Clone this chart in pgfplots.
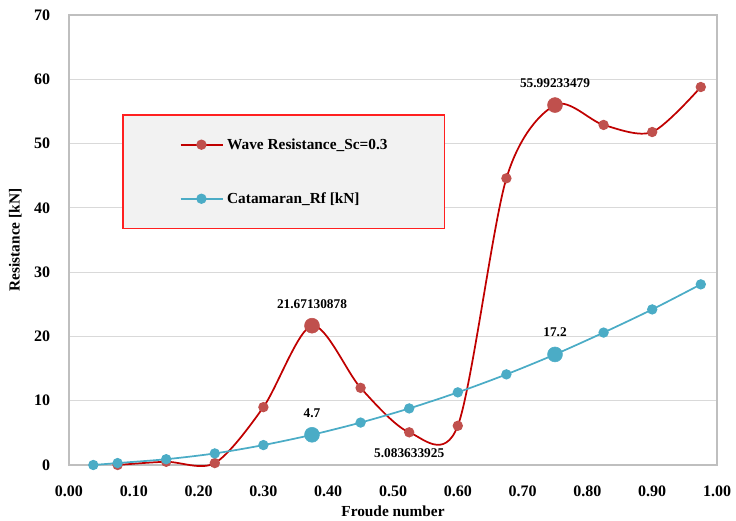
\documentclass[border=0pt]{standalone}
\usepackage{fontspec}
\setmainfont{Liberation Serif}
\usepackage{pgfplots}
\pgfplotsset{compat=1.18}
\definecolor{redline}{HTML}{C00000}
\definecolor{redmark}{HTML}{C0504D}
\definecolor{blueline}{HTML}{4BACC6}
\definecolor{gridgray}{HTML}{D9D9D9}
\definecolor{framegray}{HTML}{BFBFBF}
\definecolor{legfill}{HTML}{F2F2F2}
\definecolor{legred}{HTML}{FF2020}

\begin{document}
\begin{tikzpicture}
\useasboundingbox (-51.75pt,-42pt) rectangle (500.25pt,348.75pt);
\begin{axis}[
  scale only axis, width=486pt, height=337.5pt,
  xmin=0, xmax=1, ymin=0, ymax=70,
  xtick={0,0.1,0.2,0.3,0.4,0.5,0.6,0.7,0.8,0.9,1},
  ytick={0,10,20,30,40,50,60,70},
  ymajorgrids, grid style={gridgray, line width=0.9pt},
  axis line style={framegray, line width=0.9pt},
  major tick length=0pt,
  /pgf/number format/assume math mode=true,
  tick label style={font=\fontsize{12}{14}\selectfont\bfseries},
  xticklabel style={anchor=center, yshift=-19.5pt,
    /pgf/number format/fixed, /pgf/number format/fixed zerofill,
    /pgf/number format/precision=2},
  yticklabel style={anchor=east, inner sep=0pt, xshift=-14pt,
    /pgf/number format/fixed, /pgf/number format/precision=0},
  xlabel={Froude number},
  xlabel style={at={(axis description cs:0.5,0)}, anchor=center, yshift=-35pt,
    font=\fontsize{11.5}{13}\selectfont\bfseries},
  ylabel={Resistance [kN]},
  ylabel style={at={(axis description cs:-0.083,0.5)}, anchor=center,
    font=\fontsize{11.5}{13}\selectfont\bfseries},
  legend cell align=left,
  legend image code/.code={
    \draw[mark repeat=2, mark phase=2] plot coordinates {(0cm,0cm) (0.55cm,0cm) (1.1cm,0cm)};
  },
  legend style={at={(axis description cs:0.083,0.778)}, anchor=north west,
    name=legendbox,
    fill=legfill, draw=none,
    inner xsep=42.5pt, inner ysep=17.4pt, row sep=31pt, column sep=3pt,
    nodes={inner sep=0pt},
    font=\fontsize{11.5}{13}\selectfont\bfseries},
  clip=false,
]
\addplot[redline, line width=1.3pt, smooth, tension=0.5,
  mark=*, mark size=3.2pt, mark options={redmark, fill=redmark, draw=none}]
  coordinates {
  (0.075,0.0) (0.15,0.5) (0.225,0.3) (0.30,9.0) (0.375,21.67130878)
  (0.45,12.0) (0.525,5.083633925) (0.60,6.1) (0.675,44.6) (0.75,55.99233479)
  (0.825,52.9) (0.90,51.8) (0.975,58.8)};
\addlegendentry{Wave Resistance\_Sc=0.3}
\addplot[blueline, line width=1.3pt, smooth, tension=0.5,
  mark=*, mark size=3.2pt, mark options={blueline, fill=blueline, draw=none}]
  coordinates {
  (0.0375,0.0) (0.075,0.3) (0.15,0.9) (0.225,1.8) (0.30,3.1) (0.375,4.7)
  (0.45,6.6) (0.525,8.8) (0.60,11.3) (0.675,14.1) (0.75,17.2)
  (0.825,20.6) (0.90,24.2) (0.975,28.1)};
\addlegendentry{Catamaran\_Rf [kN]}
% highlighted points with data labels
\addplot[forget plot, only marks, mark=*, mark size=5.6pt,
  mark options={redmark, fill=redmark, draw=none},
  nodes near coords, point meta=explicit symbolic,
  nodes near coords style={anchor=center, yshift=16.5pt, text=black,
    font=\fontsize{10}{12}\selectfont\bfseries}]
  coordinates {(0.375,21.67130878)[21.67130878] (0.75,55.99233479)[55.99233479]};
\addplot[forget plot, only marks, mark=*, mark size=5.6pt,
  mark options={blueline, fill=blueline, draw=none},
  nodes near coords, point meta=explicit symbolic,
  nodes near coords style={anchor=center, yshift=16.5pt, text=black,
    font=\fontsize{10}{12}\selectfont\bfseries}]
  coordinates {(0.375,4.7)[4.7] (0.75,17.2)[17.2]};
\addplot[forget plot, only marks, mark=none,
  nodes near coords, point meta=explicit symbolic,
  nodes near coords style={anchor=center, yshift=-16pt, text=black,
    font=\fontsize{10}{12}\selectfont\bfseries}]
  coordinates {(0.525,5.083633925)[5.083633925]};
\end{axis}
\draw[legred, line width=1.1pt] (legendbox.south west) rectangle (legendbox.north east);
\end{tikzpicture}
\end{document}
